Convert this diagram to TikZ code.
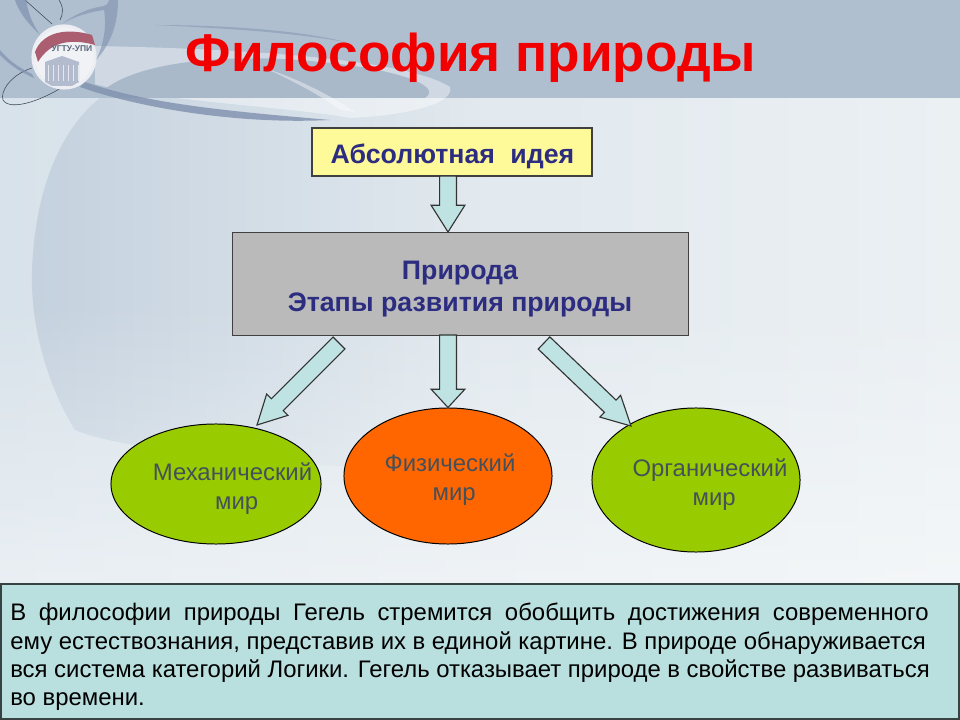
\documentclass[tikz,border=0pt]{standalone}
\usepackage{fontspec}
\setmainfont{Liberation Sans}
\usetikzlibrary{calc,shapes.geometric,fadings}
\definecolor{bandcol}{HTML}{AFBFD0}
\definecolor{skyleft}{HTML}{D8E2EA}
\definecolor{skyright}{HTML}{EBF0F3}
\definecolor{swooshcol}{HTML}{C4D1DE}
\definecolor{ringcol}{HTML}{7F90AE}
\definecolor{inkblue}{HTML}{2C2C80}
\definecolor{arrowcol}{HTML}{BFE2E2}
\definecolor{leafcol}{HTML}{99CC00}
\definecolor{firecol}{HTML}{FF6600}
\definecolor{notecol}{HTML}{B9DFDF}
\definecolor{wordcol}{HTML}{44505A}
\tikzset{
  conceptbox/.style={draw=black!75,line width=.8pt,inner sep=0pt},
  boxlabel/.style={font=\fontsize{19}{22.7}\selectfont\bfseries,text=inkblue,align=center,inner sep=0pt},
  worldoval/.style={draw=black,ellipse,line width=.7pt,inner sep=0pt},
  worldtext/.style={font=\fontsize{17}{20.6}\selectfont,text=wordcol,align=center,inner sep=0pt},
  notetext/.style={font=\fontsize{17}{20.1}\selectfont,text=black,align=left,inner sep=0pt,anchor=north west}
}
% block arrow: tail, tip, head length, half head width
\newcommand{\blockarrow}[4]{%
  \coordinate (neck) at ($(#2)!#3!(#1)$);
  \draw[draw=black!80,fill=arrowcol,line width=.8pt]
    ($(#1)!6pt!90:(neck)$) -- ($(neck)!6pt!-90:(#1)$) -- ($(neck)!#4!-90:(#1)$) -- (#2)
    -- ($(neck)!#4!90:(#1)$) -- ($(neck)!6pt!90:(#1)$) -- ($(#1)!6pt!-90:(neck)$) -- cycle;
}
\begin{document}
\begin{tikzpicture}[x=.025cm,y=-.025cm]
  \useasboundingbox (0,0) rectangle (960,720);
  % background
  \shade[left color=skyleft,right color=skyright] (0,0) rectangle (960,720);
  \shade[left color=swooshcol,middle color=skyleft!77!skyright,right color=skyleft!50!skyright] (32,270) .. controls (35,190) and (60,130) .. (100,98)
    -- (480,98) -- (480,470) .. controls (300,470) and (120,450) .. (75,430) .. controls (50,390) and (30,330) .. (32,270) -- cycle;
  \shade[top color=white,bottom color=white,path fading=north,opacity=.45] (0,300) rectangle (960,584);
  \fill[bandcol] (0,0) rectangle (960,98);
  % ribbons
  \fill[white,opacity=.42] (95,46) .. controls (200,48) and (400,55) .. (450,87)
    .. controls (455,105) and (400,116) .. (350,118) .. controls (300,108) and (150,100) .. (95,84) -- cycle;
  \fill[bandcol!97!black] (105,89) .. controls (150,55) and (260,55) .. (320,62)
    .. controls (390,68) and (445,85) .. (425,98) -- (140,98) .. controls (125,96) and (115,92) .. (105,89) -- cycle;
  \fill[white,opacity=.4] (265,68) .. controls (300,80) and (330,95) .. (355,112) -- (340,110) .. controls (320,95) and (295,82) .. (265,68) -- cycle;
  \fill[ringcol,opacity=.5] (155,25) .. controls (220,25) and (300,30) .. (345,42) .. controls (290,32) and (220,28) .. (155,25) -- cycle;
  \fill[ringcol,opacity=.8] (80,87) .. controls (130,105) and (230,125) .. (330,120)
    .. controls (240,112) and (150,105) .. (85,82) -- cycle;
  % rings
  \draw[ringcol!50!black,line width=.4pt] (32,68) .. controls (10,75) and (0,92) .. (3,100) .. controls (10,112) and (45,100) .. (70,82);
  \draw[ringcol!50!black,line width=.4pt] (25,0) -- (52,24);
  \draw[ringcol!50!black,line width=.4pt] (59,0) .. controls (64,8) and (63,14) .. (60,20);
  \fill[ringcol,opacity=.7] (15,0) .. controls (20,15) and (30,25) .. (40,35) .. controls (30,20) and (28,10) .. (26,0) -- cycle;
  \fill[ringcol,opacity=.7] (0,55) .. controls (10,65) and (20,72) .. (34,78) -- (32,74) .. controls (20,68) and (10,62) .. (0,50) -- cycle;
  \fill[ringcol,opacity=.6] (62,24) .. controls (75,14) and (90,8) .. (104,6) .. controls (108,4) and (109,2) .. (109,0) -- (118,0) .. controls (118,25) and (110,45) .. (96,60) .. controls (106,40) and (106,20) .. (104,10) .. controls (90,12) and (75,16) .. (62,24) -- cycle;
  % logo
  \node[circle,draw=white!85!ringcol,line width=2.2pt,fill=white!88!ringcol,minimum size=1.55cm,inner sep=0pt] (logo) at (64,57) {};
  \fill[red!35!ringcol] (35,52) .. controls (42,33) and (65,27) .. (92,35) -- (95,45) .. controls (70,38) and (50,42) .. (38,62) -- cycle;
  \fill[ringcol!60!white] (45,62) -- (62,56) -- (79,62) -- (79,82) -- (72,86) -- (52,86) -- (45,82) -- cycle;
  \foreach \colx in {48,53,...,78}
    \draw[white!80!ringcol,line width=.7pt] (\colx,65) -- (\colx,81);
  \node[font=\fontsize{6}{6}\selectfont\bfseries,text=ringcol!70!black,inner sep=0pt] (logotext) at (72,49) {УГТУ-УПИ};
  % title
  \node[font=\fontsize{37.8}{42}\selectfont\bfseries,text=red!95!black,inner sep=0pt] (title) at (471,58) {Философия природы};
  % boxes
  \node[conceptbox,fill=yellow!40!white,minimum width=7cm,minimum height=1.2cm] (idea) at (452,152) {};
  \node[conceptbox,fill=black!27,minimum width=11.38cm,minimum height=2.58cm] (nature) at (460.5,284) {};
  \node[boxlabel] (ideatext) at (452.5,156) {Абсолютная\hspace{.3em} идея};
  \node[boxlabel] (naturetext) at (460,289) {Природа\\Этапы развития природы};
  % worlds
  \node[worldoval,fill=leafcol,minimum width=5.25cm,minimum height=3cm] (mech) at (216,484) {};
  \node[worldoval,fill=firecol,minimum width=5.2cm,minimum height=3.4cm] (phys) at (448,476) {};
  \node[worldoval,fill=leafcol,minimum width=5.2cm,minimum height=3.6cm] (org) at (696,480) {};
  \node[worldtext] (mechtext) at (232.5,489) {Механический\\\hspace{6pt}мир};
  \node[worldtext] (phystext) at (450,480) {Физический\\\hspace{6pt}мир};
  \node[worldtext] (orgtext) at (710,485) {Органический\\\hspace{6pt}мир};
  % arrows
  \coordinate (ideatail) at (448,176);
  \coordinate (ideatip) at (448,232);
  \coordinate (phystail) at (448,335);
  \coordinate (mechtail) at (339,343);
  \coordinate (mechtip) at (257,425);
  \coordinate (orgtail) at (544,343);
  \coordinate (orgtip) at (631,426);
  \blockarrow{ideatail}{ideatip}{19pt}{12pt}
  \blockarrow{phystail}{phys.north}{13pt}{12pt}
  \blockarrow{mechtail}{mechtip}{20.4pt}{10.7pt}
  \blockarrow{orgtail}{orgtip}{20.4pt}{10.7pt}
  % note
  \node[draw=black!50!notecol!60!black,line width=1pt,fill=notecol,minimum width=23.95cm,minimum height=3.38cm,inner sep=0pt] (notebox) at (480,651.5) {};
  \node[notetext] (note) at (10,603) {%
    \makebox[22.95cm][s]{В философии природы Гегель стремится обобщить достижения современного}\\
    \makebox[22.88cm][s]{ему естествознания, представив их в единой картине. В природе обнаруживается}\\
    \makebox[22.98cm][s]{вся система категорий Логики. Гегель отказывает природе в свойстве развиваться}\\
    во времени.};
\end{tikzpicture}
\end{document}
